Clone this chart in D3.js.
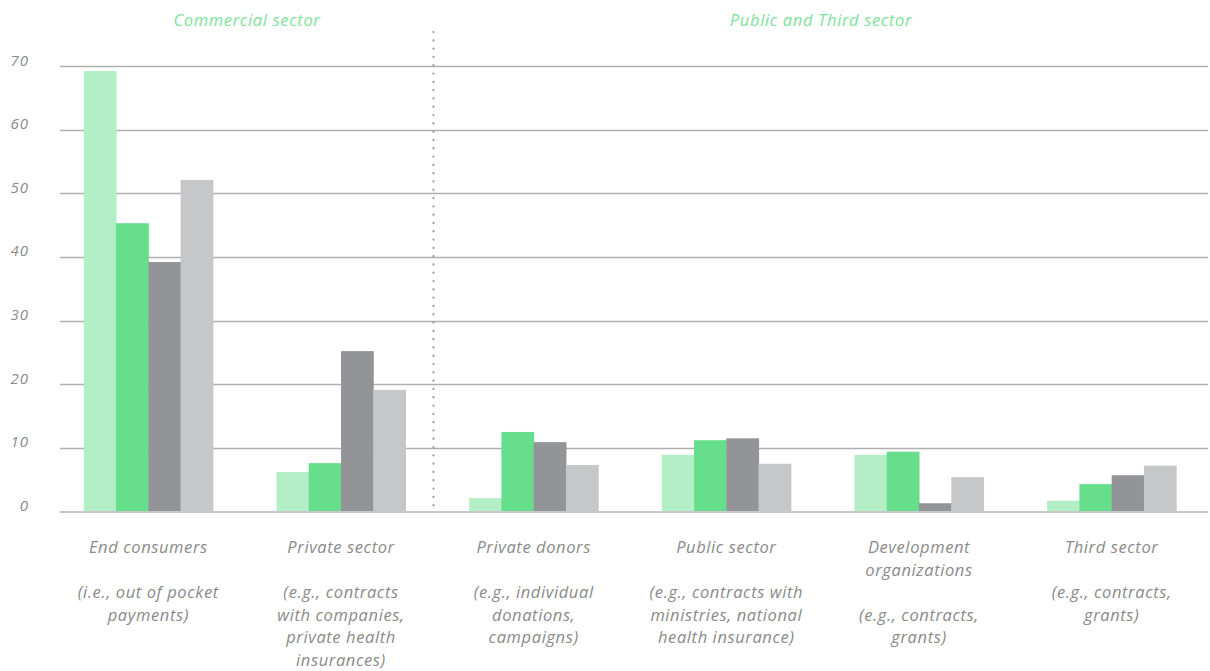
<!DOCTYPE html>
<html><head><meta charset="utf-8">
<script src="https://cdn.jsdelivr.net/npm/d3@7"></script>
<style>
html,body{margin:0;padding:0;background:#fff;}
svg{display:block;font-family:"Open Sans",Lato,sans-serif;font-style:italic;}
</style></head>
<body><svg id="c" width="1210" height="671"></svg>
<script>
const categories = ["End consumers","Private sector","Private donors","Public sector","Development organizations","Third sector"];
const titleLines = [["End consumers"],["Private sector"],["Private donors"],["Public sector"],["Development","organizations"],["Third sector"]];
const descLines = [["(i.e., out of pocket","payments)"],["(e.g., contracts","with companies,","private health","insurances)"],["(e.g., individual","donations,","campaigns)"],["(e.g., contracts with","ministries, national","health insurance)"],["(e.g., contracts,","grants)"],["(e.g., contracts,","grants)"]];
const series1 = [69.2, 6.2, 2.1, 8.9, 8.9, 1.7];
const series2 = [45.3, 7.6, 12.5, 11.2, 9.4, 4.3];
const series3 = [39.2, 25.2, 10.9, 11.5, 1.3, 5.7];
const series4 = [52.1, 19.1, 7.3, 7.5, 5.4, 7.2];
const seriesNames = ["s1","s2","s3","s4"];
const colors = ["#b3eec6","#67de8b","#939498","#c6c7c9"];
const yTicks = [0,10,20,30,40,50,60,70];
const sectorLabels = ["Commercial sector","Public and Third sector"];

const allSeries = [series1, series2, series3, series4];
const svg = d3.select("#c");
const y = d3.scaleLinear().domain([0,70]).range([511.5,66]);
const x0 = d3.scaleBand().domain(categories).range([52,1208]).paddingInner(0.33).paddingOuter(0.165);
const x1 = d3.scaleBand().domain(seriesNames).range([0,x0.bandwidth()]);

// gridlines
svg.append("g").selectAll("line").data(yTicks.filter(d=>d>0)).join("line")
  .attr("x1",60).attr("x2",1208).attr("y1",d=>Math.round(y(d))+0.5).attr("y2",d=>Math.round(y(d))+0.5)
  .attr("stroke","#b0b0b0").attr("stroke-width",1.3);
// y labels
svg.append("g").selectAll("text").data(yTicks).join("text")
  .attr("x",29).attr("y",d=>y(d)-0.5).attr("text-anchor","end")
  .attr("fill","#8a8a8a").attr("font-size",15).attr("letter-spacing",1).text(d=>d);

// bars
const grp = svg.append("g").selectAll("g").data(categories).join("g")
  .attr("transform",d=>`translate(${x0(d)},0)`);
grp.selectAll("rect").data((d,i)=>allSeries.map((s,j)=>({k:seriesNames[j],v:s[i],c:colors[j]}))).join("rect")
  .attr("x",d=>x1(d.k)).attr("width",x1.bandwidth()+0.5)
  .attr("y",d=>y(d.v)).attr("height",d=>y(0)-y(d.v)).attr("fill",d=>d.c);

// baseline
svg.append("line").attr("x1",60).attr("x2",1208).attr("y1",y(0)+0.5).attr("y2",y(0)+0.5)
  .attr("stroke","#c8c8c8").attr("stroke-width",2);

// divider
const divX = 433.5;
svg.append("line").attr("x1",divX).attr("x2",divX).attr("y1",32).attr("y2",512)
  .attr("stroke","#999").attr("stroke-width",2.2).attr("stroke-linecap","round").attr("stroke-dasharray","0.1 8.2");

// sector labels
const sx = [247, 821];
svg.append("g").selectAll("text").data(sectorLabels).join("text")
  .attr("x",(d,i)=>sx[i]).attr("y",26).attr("text-anchor","middle")
  .attr("fill","#7ee29c").attr("font-size",16.5).attr("letter-spacing",0.65).text(d=>d);

// category labels
const lab = svg.append("g").selectAll("text").data(categories).join("text")
  .attr("x",d=>x0(d)+x0.bandwidth()/2).attr("y",553.5).attr("text-anchor","middle")
  .attr("fill","#8a8a8a").attr("font-size",16.5).attr("letter-spacing",0.6);
lab.each(function(d,i){
  const lines = titleLines[i].concat([""]).concat(descLines[i]);
  const t = d3.select(this);
  lines.forEach((l,k)=>{
    t.append("tspan").attr("x",x0(d)+x0.bandwidth()/2).attr("y",553+k*22.5).text(l);
  });
});
</script></body></html>
